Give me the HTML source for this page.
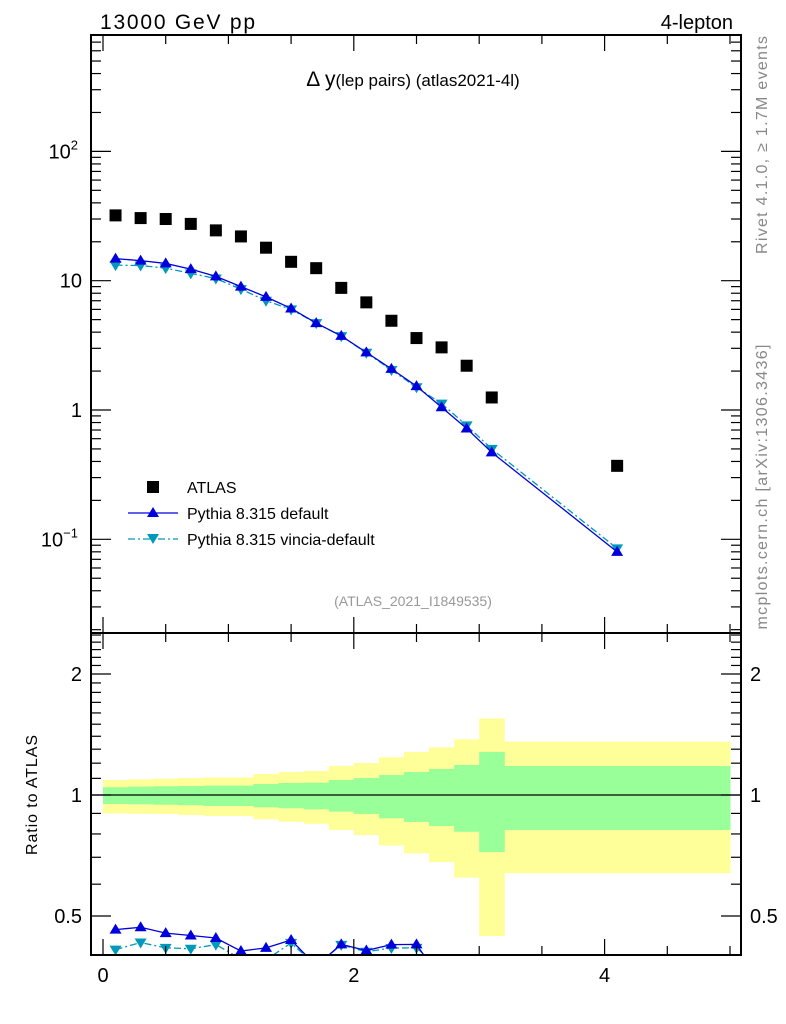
<!DOCTYPE html>
<html><head><meta charset="utf-8"><style>
body{margin:0;background:#fff;}
svg{display:block;font-family:"Liberation Sans",sans-serif;}
</style></head><body>
<svg id="c" width="786" height="1024">
<defs>
<clipPath id="mainclip"><rect x="91" y="35" width="650" height="598"/></clipPath>
<clipPath id="ratioclip"><rect x="91" y="633" width="650" height="322"/></clipPath>
</defs>
<g id="bands"></g>
<g id="marks"></g>
<g id="axes"></g>
<text x="100" y="29" font-size="21" textLength="155">13000 GeV pp</text>
<text x="733" y="29" font-size="20" text-anchor="end">4-lepton</text>
<text x="413" y="86" font-size="17" text-anchor="middle"><tspan font-size="21">Δ y</tspan>(lep pairs) (atlas2021-4l)</text>
<text x="413" y="606" font-size="14" fill="#999" text-anchor="middle">(ATLAS_2021_I1849535)</text>
<text transform="translate(767,145) rotate(-90)" font-size="16" fill="#888" text-anchor="middle" textLength="218">Rivet 4.1.0, ≥ 1.7M events</text>
<text transform="translate(767,487) rotate(-90)" font-size="16" fill="#888" text-anchor="middle" textLength="285">mcplots.cern.ch [arXiv:1306.3436]</text>
<text transform="translate(37,795) rotate(-90)" font-size="16" text-anchor="middle" textLength="120">Ratio to ATLAS</text>
<g>
<rect x="147" y="481" width="12" height="12" fill="#000"/>
<text x="187" y="493" font-size="16">ATLAS</text>
<line x1="128" y1="513" x2="178" y2="513" stroke="#0000dd" stroke-width="1.3"/>
<path d="M153,507 L159,517 L147,517 Z" fill="#0000dd"/>
<text x="187" y="519" font-size="16">Pythia 8.315 default</text>
<line x1="128" y1="539" x2="178" y2="539" stroke="#0099bb" stroke-width="1.3" stroke-dasharray="7,3,2,3"/>
<path d="M147,534 L159,534 L153,544 Z" fill="#0099bb"/>
<text x="187" y="545" font-size="16">Pythia 8.315 vincia-default</text>
</g>
</svg>
<script>
const binEdges=[0,0.2,0.4,0.6,0.8,1.0,1.2,1.4,1.6,1.8,2.0,2.2,2.4,2.6,2.8,3.0,3.2,5.0];
const atlas=[32,30.5,30,27.5,24.5,22,18,14,12.5,8.8,6.8,4.9,3.6,3.05,2.2,1.25,0.37];
const pyDefault=[14.8,14.3,13.6,12.3,10.8,9.0,7.5,6.1,4.7,3.74,2.79,2.08,1.53,1.05,0.72,0.47,0.08];
const pyVincia=[13.2,13.1,12.5,11.4,10.4,8.6,7.0,6.0,4.7,3.73,2.77,2.04,1.5,1.12,0.76,0.5,0.085];
const totUp=[1.090,1.094,1.098,1.102,1.106,1.106,1.128,1.141,1.147,1.181,1.201,1.241,1.280,1.314,1.376,1.551,1.357];
const totDn=[0.900,0.898,0.897,0.892,0.887,0.887,0.870,0.858,0.848,0.818,0.795,0.749,0.716,0.681,0.623,0.446,0.639];
const statUp=[1.045,1.049,1.051,1.053,1.055,1.055,1.065,1.071,1.073,1.090,1.102,1.121,1.141,1.161,1.188,1.280,1.181];
const statDn=[0.950,0.948,0.946,0.943,0.939,0.939,0.932,0.927,0.921,0.909,0.897,0.875,0.857,0.837,0.810,0.721,0.818];
const xTicks=[0,2,4];
const mainTickLabels=[[0.1,'10','−1'],[1,'1',''],[10,'10',''],[100,'10','2']];
const ratioTickLabels=[[0.5,'0.5'],[1,'1'],[2,'2']];

const NS='http://www.w3.org/2000/svg';
const L=91,R=741,T=35,MB=633,RB=955;
const X=v=>103+v*125.4;
const Y=v=>410-129.3*Math.log10(v);
const RY=v=>795-402*Math.log10(v);
function mk(tag,attrs,parent){const e=document.createElementNS(NS,tag);for(const k in attrs)e.setAttribute(k,attrs[k]);parent.appendChild(e);return e;}
const bands=document.getElementById('bands'),marks=document.getElementById('marks'),axes=document.getElementById('axes');
const centers=atlas.map((_,i)=>(binEdges[i]+binEdges[i+1])/2);

atlas.forEach((_,i)=>{
 const x0=X(binEdges[i]),x1=X(binEdges[i+1]);
 const y=mk('rect',{x:x0,y:RY(totUp[i]),width:x1-x0+0.5,height:RY(totDn[i])-RY(totUp[i]),fill:'#ffff99'},bands);
 
 
});
atlas.forEach((_,i)=>{
 const x0=X(binEdges[i]),x1=X(binEdges[i+1]);
 const g=mk('rect',{x:x0,y:RY(statUp[i]),width:x1-x0+0.5,height:RY(statDn[i])-RY(statUp[i]),fill:'#99ff99'},bands);
 
 
});
const one=mk('line',{x1:L,x2:R,y1:RY(1),y2:RY(1),stroke:'#000','stroke-width':1.2},bands);



const mg=mk('g',{'clip-path':'url(#mainclip)'},marks);
const rg=mk('g',{'clip-path':'url(#ratioclip)'},marks);
function series(vals,color,dash,up,name){
 const pts=vals.map((v,i)=>X(centers[i])+','+Y(v)).join(' ');
 const pl=mk('polyline',{points:pts,fill:'none',stroke:color,'stroke-width':1.3},mg);
 if(dash)pl.setAttribute('stroke-dasharray',dash);
 
 
 const rpts=vals.map((v,i)=>X(centers[i])+','+RY(v/atlas[i])).join(' ');
 const rl=mk('polyline',{points:rpts,fill:'none',stroke:color,'stroke-width':1.3},rg);
 if(dash)rl.setAttribute('stroke-dasharray',dash);
 
 
 vals.forEach((v,i)=>{
  const cx=X(centers[i]);
  [[Y(v),mg,'-point-',MB],[RY(v/atlas[i]),rg,'-ratio-point-',RB]].forEach(([cy,par,tag,lim])=>{
   if(cy>=lim-1)return;
   const d=up?`M${cx},${cy-6} L${cx+6},${cy+4} L${cx-6},${cy+4} Z`:`M${cx-6},${cy-4} L${cx+6},${cy-4} L${cx},${cy+6} Z`;
   const p=mk('path',{d:d,fill:color},par);
   
   
  });
 });
}
series(pyVincia,'#0099bb','7,3,2,3',false,'vincia');
series(pyDefault,'#0000dd',null,true,'default');
atlas.forEach((v,i)=>{
 const r=mk('rect',{x:X(centers[i])-6,y:Y(v)-6,width:12,height:12,fill:'#000'},mg);
 
 
});

[[T,MB],[MB,RB]].forEach(([a,b],k)=>{
 const f=mk('rect',{x:L,y:a,width:R-L,height:b-a,fill:'none',stroke:'#000','stroke-width':2},axes);
 
 
});
for(let v=0;v<=5.001;v+=0.5){
 const x=X(v),maj=Math.abs(v-Math.round(v))<1e-6&&Math.round(v)%2===0,len=maj?16:9;
 [[T,1],[MB,-1],[MB,1],[RB,-1]].forEach(([y0,s])=>mk('line',{x1:x,x2:x,y1:y0,y2:y0+s*len,stroke:'#000','stroke-width':1.2},axes));
}
xTicks.forEach(v=>{
 const t=mk('text',{x:X(v),y:982,'font-size':20,'text-anchor':'middle'},axes);
 t.textContent=v;
 
 
});
for(let e=-2;e<=2;e++)for(let m=1;m<=9;m++){
 const v=m*Math.pow(10,e),y=Y(v);if(y<T||y>MB)continue;
 const len=m===1?20:10;
 mk('line',{x1:L,x2:L+len,y1:y,y2:y,stroke:'#000','stroke-width':1.2},axes);
 mk('line',{x1:R,x2:R-len,y1:y,y2:y,stroke:'#000','stroke-width':1.2},axes);
}
mainTickLabels.forEach(([v,b,s])=>{
 const t=mk('text',{x:s?78:82,y:Y(v)+7,'font-size':20,'text-anchor':'end'},axes);
 t.textContent=b;
 if(s){const ts=mk('tspan',{dy:-9,'font-size':13},t);ts.textContent=s;}
 
 
});
for(let k=4;k<=25;k++){
 const v=k/10,y=RY(v);if(y<MB||y>RB)continue;
 const maj=(k===5||k===10||k===20),len=maj?20:10;
 mk('line',{x1:L,x2:L+len,y1:y,y2:y,stroke:'#000','stroke-width':1.2},axes);
 mk('line',{x1:R,x2:R-len,y1:y,y2:y,stroke:'#000','stroke-width':1.2},axes);
}
ratioTickLabels.forEach(([v,s])=>{
 [[82,'end'],[750,'start']].forEach(([x,a],j)=>{
  const t=mk('text',{x:x,y:RY(v)+7,'font-size':20,'text-anchor':a},axes);
  t.textContent=s;
  
  
 });
});
</script>
</body></html>
